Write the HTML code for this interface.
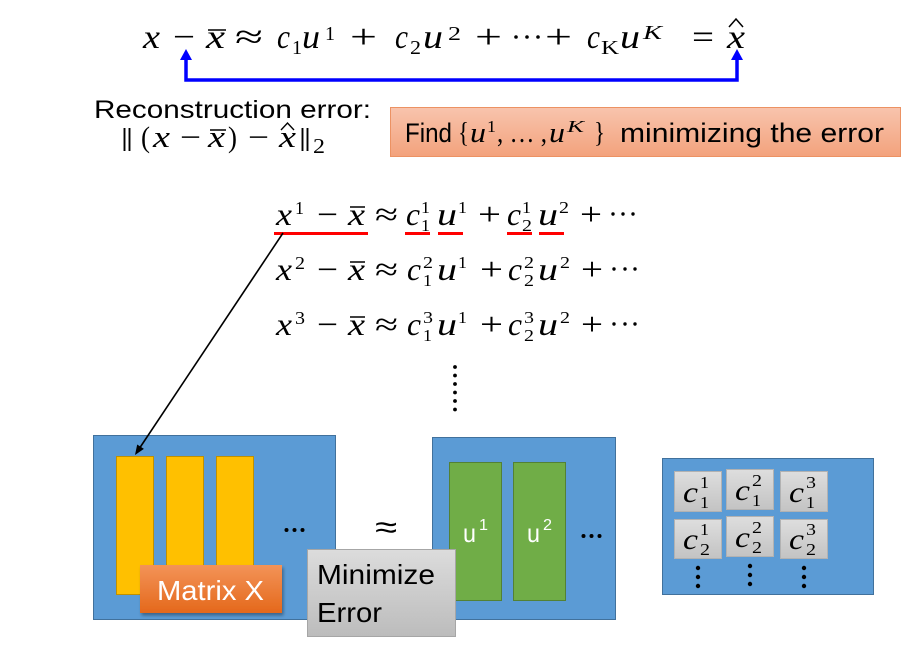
<!DOCTYPE html>
<html>
<head>
<meta charset="utf-8">
<style>
  html,body{margin:0;padding:0;background:#fff;}
  body{width:924px;height:666px;overflow:hidden;}
  svg{display:block;}
  .m{font-family:"Liberation Serif","DejaVu Serif",serif;font-style:italic;}
  .r{font-family:"Liberation Serif","DejaVu Serif",serif;}
  .s{font-family:"Liberation Sans","DejaVu Sans",sans-serif;}
</style>
</head>
<body>
<svg width="924" height="666" viewBox="0 0 924 666" xmlns="http://www.w3.org/2000/svg">
  <defs>
    <linearGradient id="gOr" x1="0" y1="0" x2="0" y2="1">
      <stop offset="0" stop-color="#f8c4ad"/>
      <stop offset="1" stop-color="#f3a27c"/>
    </linearGradient>
    <linearGradient id="gMx" x1="0" y1="0" x2="0" y2="1">
      <stop offset="0" stop-color="#f39358"/>
      <stop offset="1" stop-color="#e4681b"/>
    </linearGradient>
    <linearGradient id="gGr" x1="0" y1="0" x2="0" y2="1">
      <stop offset="0" stop-color="#dcdcdc"/>
      <stop offset="1" stop-color="#bcbcbc"/>
    </linearGradient>
    <linearGradient id="gCell" x1="0" y1="0" x2="0" y2="1">
      <stop offset="0" stop-color="#dedede"/>
      <stop offset="1" stop-color="#c3c3c3"/>
    </linearGradient>
    <filter id="sh" x="-10%" y="-10%" width="130%" height="140%">
      <feGaussianBlur in="SourceAlpha" stdDeviation="1.5"/>
      <feOffset dx="1.5" dy="2.5" result="o"/>
      <feComponentTransfer><feFuncA type="linear" slope="0.35"/></feComponentTransfer>
      <feMerge><feMergeNode/><feMergeNode in="SourceGraphic"/></feMerge>
    </filter>
  </defs>

  <!-- ===== Top formula ===== -->
  <g font-size="34" fill="#000">
    <text class="m" x="143" y="48" textLength="17" lengthAdjust="spacingAndGlyphs">x</text>
    <text class="r" x="173" y="48" textLength="22" lengthAdjust="spacingAndGlyphs">−</text>
    <text class="m" x="206" y="48" textLength="19" lengthAdjust="spacingAndGlyphs">x</text>
    <line x1="208" y1="30" x2="226" y2="30" stroke="#000" stroke-width="1.6"/>
    <text class="r" x="235" y="48" textLength="28" lengthAdjust="spacingAndGlyphs">≈</text>
    <text class="m" x="277" y="48" textLength="13" lengthAdjust="spacingAndGlyphs">c</text>
    <text class="r" x="292" y="54" font-size="20" textLength="10" lengthAdjust="spacingAndGlyphs">1</text>
    <text class="m" x="302" y="48" textLength="18" lengthAdjust="spacingAndGlyphs">u</text>
    <text class="r" x="325" y="40" font-size="20" textLength="10" lengthAdjust="spacingAndGlyphs">1</text>
    <text class="r" x="350" y="48" textLength="27" lengthAdjust="spacingAndGlyphs">+</text>
    <text class="m" x="395" y="48" textLength="13" lengthAdjust="spacingAndGlyphs">c</text>
    <text class="r" x="410" y="54" font-size="20" textLength="11" lengthAdjust="spacingAndGlyphs">2</text>
    <text class="m" x="423" y="48" textLength="20" lengthAdjust="spacingAndGlyphs">u</text>
    <text class="r" x="448" y="40" font-size="20" textLength="13" lengthAdjust="spacingAndGlyphs">2</text>
    <text class="r" x="475" y="48" textLength="27" lengthAdjust="spacingAndGlyphs">+</text>
    <circle cx="516" cy="37" r="1.8"/><circle cx="527" cy="37" r="1.8"/><circle cx="538" cy="37" r="1.8"/>
    <text class="r" x="545" y="48" textLength="27" lengthAdjust="spacingAndGlyphs">+</text>
    <text class="m" x="587" y="48" textLength="13" lengthAdjust="spacingAndGlyphs">c</text>
    <text class="r" x="601" y="54" font-size="20" textLength="18" lengthAdjust="spacingAndGlyphs">K</text>
    <text class="m" x="620" y="48" textLength="20" lengthAdjust="spacingAndGlyphs">u</text>
    <text class="m" x="643" y="39" font-size="20" textLength="19" lengthAdjust="spacingAndGlyphs">K</text>
    <text class="r" x="692" y="48" textLength="22" lengthAdjust="spacingAndGlyphs">=</text>
    <text class="m" x="727" y="48" textLength="18" lengthAdjust="spacingAndGlyphs">x</text>
    <polyline points="729,27 736,19 743,27" fill="none" stroke="#000" stroke-width="1.5"/>
  </g>

  <!-- blue bracket arrow -->
  <path d="M186,58 V80 H737 V58" fill="none" stroke="#0000ff" stroke-width="3.5"/>
  <polygon points="186,49 180,60 192,60" fill="#0000ff"/>
  <polygon points="737,49 731,60 743,60" fill="#0000ff"/>

  <!-- ===== Reconstruction error ===== -->
  <text class="s" x="94" y="118" font-size="25" textLength="277" lengthAdjust="spacingAndGlyphs">Reconstruction error:</text>
  <g fill="#000">
    <line x1="124.5" y1="128" x2="124.5" y2="151" stroke="#000" stroke-width="1.9"/>
    <line x1="129.5" y1="128" x2="129.5" y2="151" stroke="#000" stroke-width="1.9"/>
    <text class="r" x="141" y="147" font-size="30" textLength="9" lengthAdjust="spacingAndGlyphs">(</text>
    <text class="m" x="153" y="147" font-size="31" textLength="17" lengthAdjust="spacingAndGlyphs">x</text>
    <text class="r" x="180" y="147" font-size="30" textLength="21" lengthAdjust="spacingAndGlyphs">−</text>
    <text class="m" x="208" y="147" font-size="31" textLength="17" lengthAdjust="spacingAndGlyphs">x</text>
    <line x1="210" y1="130" x2="226" y2="130" stroke="#000" stroke-width="1.5"/>
    <text class="r" x="228" y="147" font-size="30" textLength="9" lengthAdjust="spacingAndGlyphs">)</text>
    <text class="r" x="248" y="147" font-size="30" textLength="21" lengthAdjust="spacingAndGlyphs">−</text>
    <text class="m" x="279" y="147" font-size="31" textLength="17" lengthAdjust="spacingAndGlyphs">x</text>
    <polyline points="281,130 287.5,123 294,130" fill="none" stroke="#000" stroke-width="1.4"/>
    <line x1="302.5" y1="128" x2="302.5" y2="151" stroke="#000" stroke-width="1.9"/>
    <line x1="307.5" y1="128" x2="307.5" y2="151" stroke="#000" stroke-width="1.9"/>
    <text class="r" x="313" y="153" font-size="21" textLength="12" lengthAdjust="spacingAndGlyphs">2</text>
  </g>

  <!-- ===== Find box ===== -->
  <rect x="390.5" y="107.5" width="510" height="49" fill="url(#gOr)" stroke="#ec9263" stroke-width="1"/>
  <g fill="#000">
    <text class="s" x="405" y="142" font-size="27" textLength="47" lengthAdjust="spacingAndGlyphs">Find</text>
    <text class="r" x="458" y="142" font-size="28" textLength="11" lengthAdjust="spacingAndGlyphs">{</text>
    <text class="m" x="470" y="142" font-size="28" textLength="16" lengthAdjust="spacingAndGlyphs">u</text>
    <text class="r" x="487" y="132" font-size="17" textLength="9" lengthAdjust="spacingAndGlyphs">1</text>
    <text class="r" x="497" y="142" font-size="28" textLength="50" lengthAdjust="spacingAndGlyphs">, … ,</text>
    <text class="m" x="549" y="142" font-size="28" textLength="16" lengthAdjust="spacingAndGlyphs">u</text>
    <text class="m" x="567" y="132" font-size="17" textLength="17" lengthAdjust="spacingAndGlyphs">K</text>
    <text class="r" x="594" y="142" font-size="28" textLength="11" lengthAdjust="spacingAndGlyphs">}</text>
    <text class="s" x="620" y="142" font-size="27" textLength="264" lengthAdjust="spacingAndGlyphs">minimizing the error</text>
  </g>

  <!-- ===== Equation lines ===== -->
  <g fill="#000" font-size="32">
    <!-- line 1 -->
    <text class="m" x="276" y="225" textLength="16" lengthAdjust="spacingAndGlyphs">x</text>
    <text class="r" x="295" y="214" font-size="18" textLength="9" lengthAdjust="spacingAndGlyphs">1</text>
    <text class="r" x="317" y="225" textLength="21" lengthAdjust="spacingAndGlyphs">−</text>
    <text class="m" x="348" y="225" textLength="17" lengthAdjust="spacingAndGlyphs">x</text>
    <line x1="350" y1="207" x2="365" y2="207" stroke="#000" stroke-width="1.5"/>
    <text class="r" x="375" y="225" textLength="23" lengthAdjust="spacingAndGlyphs">≈</text>
    <text class="m" x="406" y="225" textLength="14" lengthAdjust="spacingAndGlyphs">c</text>
    <text class="r" x="421" y="213" font-size="17" textLength="9" lengthAdjust="spacingAndGlyphs">1</text>
    <text class="r" x="421" y="231" font-size="17" textLength="9" lengthAdjust="spacingAndGlyphs">1</text>
    <text class="m" x="437" y="225" textLength="20" lengthAdjust="spacingAndGlyphs">u</text>
    <text class="r" x="458" y="213" font-size="17" textLength="9" lengthAdjust="spacingAndGlyphs">1</text>
    <text class="r" x="478" y="225" textLength="23" lengthAdjust="spacingAndGlyphs">+</text>
    <text class="m" x="507" y="225" textLength="14" lengthAdjust="spacingAndGlyphs">c</text>
    <text class="r" x="522" y="213" font-size="17" textLength="9" lengthAdjust="spacingAndGlyphs">1</text>
    <text class="r" x="522" y="231" font-size="17" textLength="10" lengthAdjust="spacingAndGlyphs">2</text>
    <text class="m" x="538" y="225" textLength="20" lengthAdjust="spacingAndGlyphs">u</text>
    <text class="r" x="559" y="213" font-size="17" textLength="10" lengthAdjust="spacingAndGlyphs">2</text>
    <text class="r" x="580" y="225" textLength="22" lengthAdjust="spacingAndGlyphs">+</text>
    <circle cx="613" cy="214" r="1.7"/><circle cx="623" cy="214" r="1.7"/><circle cx="633" cy="214" r="1.7"/>

    <!-- line 2 -->
    <text class="m" x="276" y="280" textLength="16" lengthAdjust="spacingAndGlyphs">x</text>
    <text class="r" x="295" y="269" font-size="18" textLength="10" lengthAdjust="spacingAndGlyphs">2</text>
    <text class="r" x="317" y="280" textLength="21" lengthAdjust="spacingAndGlyphs">−</text>
    <text class="m" x="348" y="280" textLength="17" lengthAdjust="spacingAndGlyphs">x</text>
    <line x1="350" y1="262" x2="365" y2="262" stroke="#000" stroke-width="1.5"/>
    <text class="r" x="375" y="280" textLength="23" lengthAdjust="spacingAndGlyphs">≈</text>
    <text class="m" x="407" y="280" textLength="14" lengthAdjust="spacingAndGlyphs">c</text>
    <text class="r" x="423" y="268" font-size="17" textLength="10" lengthAdjust="spacingAndGlyphs">2</text>
    <text class="r" x="423" y="286" font-size="17" textLength="9" lengthAdjust="spacingAndGlyphs">1</text>
    <text class="m" x="437" y="280" textLength="20" lengthAdjust="spacingAndGlyphs">u</text>
    <text class="r" x="458" y="268" font-size="17" textLength="9" lengthAdjust="spacingAndGlyphs">1</text>
    <text class="r" x="480" y="280" textLength="23" lengthAdjust="spacingAndGlyphs">+</text>
    <text class="m" x="508" y="280" textLength="14" lengthAdjust="spacingAndGlyphs">c</text>
    <text class="r" x="524" y="268" font-size="17" textLength="10" lengthAdjust="spacingAndGlyphs">2</text>
    <text class="r" x="524" y="286" font-size="17" textLength="10" lengthAdjust="spacingAndGlyphs">2</text>
    <text class="m" x="538" y="280" textLength="20" lengthAdjust="spacingAndGlyphs">u</text>
    <text class="r" x="560" y="268" font-size="17" textLength="10" lengthAdjust="spacingAndGlyphs">2</text>
    <text class="r" x="581" y="280" textLength="22" lengthAdjust="spacingAndGlyphs">+</text>
    <circle cx="614" cy="269" r="1.7"/><circle cx="625" cy="269" r="1.7"/><circle cx="635" cy="269" r="1.7"/>

    <!-- line 3 -->
    <text class="m" x="276" y="335" textLength="16" lengthAdjust="spacingAndGlyphs">x</text>
    <text class="r" x="295" y="324" font-size="18" textLength="10" lengthAdjust="spacingAndGlyphs">3</text>
    <text class="r" x="317" y="335" textLength="21" lengthAdjust="spacingAndGlyphs">−</text>
    <text class="m" x="348" y="335" textLength="17" lengthAdjust="spacingAndGlyphs">x</text>
    <line x1="350" y1="317" x2="365" y2="317" stroke="#000" stroke-width="1.5"/>
    <text class="r" x="375" y="335" textLength="23" lengthAdjust="spacingAndGlyphs">≈</text>
    <text class="m" x="407" y="335" textLength="14" lengthAdjust="spacingAndGlyphs">c</text>
    <text class="r" x="423" y="323" font-size="17" textLength="10" lengthAdjust="spacingAndGlyphs">3</text>
    <text class="r" x="423" y="341" font-size="17" textLength="9" lengthAdjust="spacingAndGlyphs">1</text>
    <text class="m" x="437" y="335" textLength="20" lengthAdjust="spacingAndGlyphs">u</text>
    <text class="r" x="458" y="323" font-size="17" textLength="9" lengthAdjust="spacingAndGlyphs">1</text>
    <text class="r" x="480" y="335" textLength="23" lengthAdjust="spacingAndGlyphs">+</text>
    <text class="m" x="508" y="335" textLength="14" lengthAdjust="spacingAndGlyphs">c</text>
    <text class="r" x="524" y="323" font-size="17" textLength="10" lengthAdjust="spacingAndGlyphs">3</text>
    <text class="r" x="524" y="341" font-size="17" textLength="10" lengthAdjust="spacingAndGlyphs">2</text>
    <text class="m" x="538" y="335" textLength="20" lengthAdjust="spacingAndGlyphs">u</text>
    <text class="r" x="560" y="323" font-size="17" textLength="10" lengthAdjust="spacingAndGlyphs">2</text>
    <text class="r" x="581" y="335" textLength="22" lengthAdjust="spacingAndGlyphs">+</text>
    <circle cx="614" cy="324" r="1.7"/><circle cx="625" cy="324" r="1.7"/><circle cx="635" cy="324" r="1.7"/>

    <!-- vertical dots -->
    <circle cx="455" cy="367" r="1.9"/><circle cx="455" cy="375.5" r="1.9"/><circle cx="455" cy="384" r="1.9"/>
    <circle cx="455" cy="392.5" r="1.9"/><circle cx="455" cy="401" r="1.9"/><circle cx="455" cy="409.5" r="1.9"/>
  </g>

  <!-- red underlines -->
  <g fill="#ff0000">
    <rect x="274" y="232" width="94" height="3"/>
    <rect x="405" y="232" width="25" height="3"/>
    <rect x="438" y="232" width="25" height="3"/>
    <rect x="507" y="232" width="25" height="3"/>
    <rect x="539" y="232" width="25" height="3"/>
  </g>

  <!-- ===== Bottom: left box ===== -->
  <rect x="93.5" y="435.5" width="242" height="184" fill="#5b9bd5" stroke="#41719c" stroke-width="1"/>
  <g fill="#ffc000" stroke="#bf9000" stroke-width="1">
    <rect x="116.5" y="456.5" width="37" height="138"/>
    <rect x="166.5" y="456.5" width="37" height="138"/>
    <rect x="216.5" y="456.5" width="37" height="138"/>
  </g>
  <g fill="#000">
    <circle cx="286.5" cy="530" r="2"/><circle cx="294.5" cy="530" r="2"/><circle cx="302.5" cy="530" r="2"/>
  </g>

  <!-- black arrow -->
  <line x1="283" y1="233" x2="139" y2="449" stroke="#000" stroke-width="1.6"/>
  <polygon points="135,455 143.9,448.9 137.2,444.5" fill="#000"/>

  <!-- Matrix X -->
  <rect x="140" y="565" width="142" height="48" fill="url(#gMx)" filter="url(#sh)"/>
  <text class="s" x="157" y="600" font-size="28" fill="#fff" textLength="107" lengthAdjust="spacingAndGlyphs">Matrix X</text>

  <!-- approx -->
  <text class="s" x="375" y="538" font-size="32" fill="#000" textLength="22" lengthAdjust="spacingAndGlyphs">≈</text>

  <!-- ===== middle box ===== -->
  <rect x="432.5" y="437.5" width="183" height="182" fill="#5b9bd5" stroke="#41719c" stroke-width="1"/>
  <g fill="#70ad47" stroke="#538135" stroke-width="1">
    <rect x="449.5" y="462.5" width="52" height="138"/>
    <rect x="513.5" y="462.5" width="52" height="138"/>
  </g>
  <g fill="#fff">
    <text class="s" x="463" y="542" font-size="26" textLength="13" lengthAdjust="spacingAndGlyphs">u</text>
    <text class="s" x="479" y="530" font-size="16" textLength="9" lengthAdjust="spacingAndGlyphs">1</text>
    <text class="s" x="527" y="542" font-size="26" textLength="13" lengthAdjust="spacingAndGlyphs">u</text>
    <text class="s" x="543" y="530" font-size="16" textLength="9" lengthAdjust="spacingAndGlyphs">2</text>
  </g>
  <g fill="#000">
    <circle cx="583.5" cy="536" r="2"/><circle cx="591.5" cy="536" r="2"/><circle cx="599.5" cy="536" r="2"/>
  </g>

  <!-- Minimize Error -->
  <rect x="307.5" y="549.5" width="148" height="87" fill="url(#gGr)" stroke="#a6a6a6" stroke-width="1"/>
  <text class="s" x="317" y="584" font-size="28" fill="#000" textLength="118" lengthAdjust="spacingAndGlyphs">Minimize</text>
  <text class="s" x="317" y="622" font-size="28" fill="#000" textLength="65" lengthAdjust="spacingAndGlyphs">Error</text>

  <!-- ===== right box ===== -->
  <rect x="662.5" y="458.5" width="211" height="136" fill="#5b9bd5" stroke="#41719c" stroke-width="1"/>
  <g fill="url(#gCell)" stroke="#b2b2b2" stroke-width="1">
    <rect x="674.5" y="471.5" width="47" height="40"/>
    <rect x="726.5" y="469.5" width="47" height="40"/>
    <rect x="780.5" y="471.5" width="47" height="40"/>
    <rect x="674.5" y="519.5" width="47" height="39"/>
    <rect x="726.5" y="516.5" width="47" height="40"/>
    <rect x="780.5" y="519.5" width="47" height="39"/>
  </g>
  <g fill="#000">
    <!-- row 1 -->
    <text class="m" x="683" y="502" font-size="30" textLength="15" lengthAdjust="spacingAndGlyphs">c</text>
    <text class="r" x="700" y="488" font-size="17" textLength="9" lengthAdjust="spacingAndGlyphs">1</text>
    <text class="r" x="700" y="508" font-size="17" textLength="9" lengthAdjust="spacingAndGlyphs">1</text>
    <text class="m" x="735" y="500" font-size="30" textLength="15" lengthAdjust="spacingAndGlyphs">c</text>
    <text class="r" x="752" y="486" font-size="17" textLength="10" lengthAdjust="spacingAndGlyphs">2</text>
    <text class="r" x="752" y="506" font-size="17" textLength="9" lengthAdjust="spacingAndGlyphs">1</text>
    <text class="m" x="789" y="502" font-size="30" textLength="15" lengthAdjust="spacingAndGlyphs">c</text>
    <text class="r" x="806" y="488" font-size="17" textLength="10" lengthAdjust="spacingAndGlyphs">3</text>
    <text class="r" x="806" y="508" font-size="17" textLength="9" lengthAdjust="spacingAndGlyphs">1</text>
    <!-- row 2 -->
    <text class="m" x="683" y="549" font-size="30" textLength="15" lengthAdjust="spacingAndGlyphs">c</text>
    <text class="r" x="700" y="535" font-size="17" textLength="9" lengthAdjust="spacingAndGlyphs">1</text>
    <text class="r" x="700" y="555" font-size="17" textLength="10" lengthAdjust="spacingAndGlyphs">2</text>
    <text class="m" x="735" y="547" font-size="30" textLength="15" lengthAdjust="spacingAndGlyphs">c</text>
    <text class="r" x="752" y="533" font-size="17" textLength="10" lengthAdjust="spacingAndGlyphs">2</text>
    <text class="r" x="752" y="553" font-size="17" textLength="10" lengthAdjust="spacingAndGlyphs">2</text>
    <text class="m" x="789" y="549" font-size="30" textLength="15" lengthAdjust="spacingAndGlyphs">c</text>
    <text class="r" x="806" y="535" font-size="17" textLength="10" lengthAdjust="spacingAndGlyphs">3</text>
    <text class="r" x="806" y="555" font-size="17" textLength="10" lengthAdjust="spacingAndGlyphs">2</text>
    <!-- vertical dots -->
    <circle cx="698" cy="568" r="2.2"/><circle cx="698" cy="577" r="2.2"/><circle cx="698" cy="586" r="2.2"/>
    <circle cx="750" cy="566" r="2.2"/><circle cx="750" cy="575" r="2.2"/><circle cx="750" cy="584" r="2.2"/>
    <circle cx="804" cy="568" r="2.2"/><circle cx="804" cy="577" r="2.2"/><circle cx="804" cy="586" r="2.2"/>
  </g>
</svg>
</body>
</html>
